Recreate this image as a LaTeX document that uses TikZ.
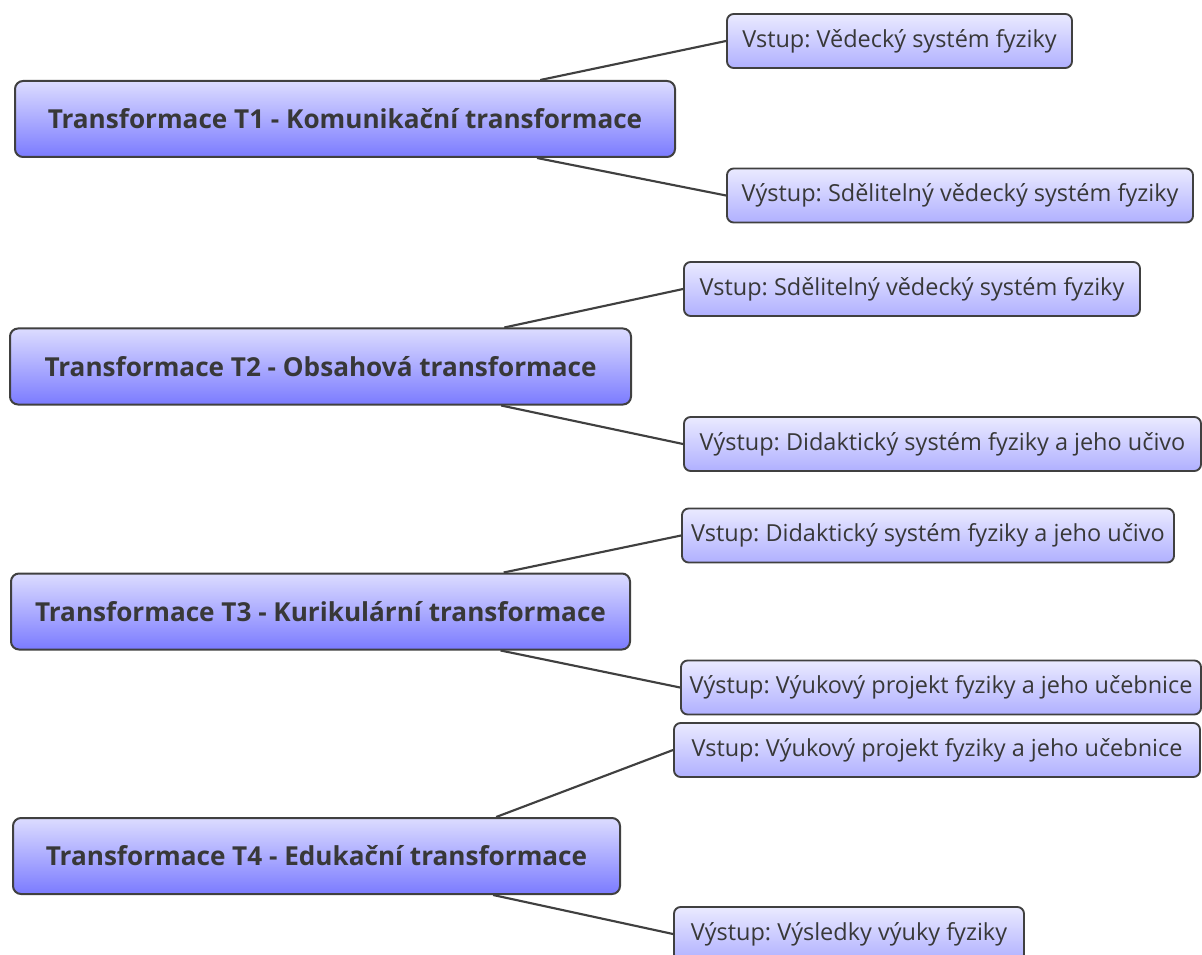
\documentclass[tikz,border=0pt]{standalone}
\usepackage{fontspec}
\setmainfont{Open Sans}
\frenchspacing
\usetikzlibrary{calc}
\definecolor{mtop}{HTML}{DCDCFF}
\definecolor{mbot}{HTML}{7B7BFF}
\definecolor{stop}{HTML}{EAEAFF}
\definecolor{sbot}{HTML}{B0B0FF}
\definecolor{edge}{HTML}{404040}
\definecolor{txt}{HTML}{383838}
\tikzset{
  mainbox/.style={draw=edge, line width=1.5pt, rounded corners=6pt, top color=mtop, bottom color=mbot,
    minimum height=57pt, inner sep=0pt, text=txt, font=\fontsize{19.6}{22}\selectfont\bfseries},
  subbox/.style={draw=edge, line width=1.4pt, rounded corners=5pt, top color=stop, bottom color=sbot,
    minimum height=40.5pt, inner sep=0pt, text=txt, font=\fontsize{17.6}{20}\selectfont},
  link/.style={draw=edge, line width=1.6pt}
}
\begin{document}
\begin{tikzpicture}[x=0.75pt,y=-0.75pt]
\useasboundingbox[fill=white] (0,0) rectangle (1202,955);
% main nodes
\node[mainbox, minimum width=495pt] (m1) at (345,119) {Transformace T1 - Komunikační transformace};
\node[mainbox, minimum width=465.75pt] (m2) at (320.5,366.5) {Transformace T2 - Obsahová transformace};
\node[mainbox, minimum width=464.25pt] (m3) at (320.5,611.5) {Transformace T3 - Kurikulární transformace};
\node[mainbox, minimum width=455.25pt] (m4) at (316.5,856) {Transformace T4 - Edukační transformace};
% sub nodes
\node[subbox, minimum width=258.75pt] (i1) at (899.5,41) {Vstup: Vědecký systém fyziky};
\node[subbox, minimum width=349.5pt] (o1) at (960,195.5) {Výstup: Sdělitelný vědecký systém fyziky};
\node[subbox, minimum width=342pt] (i2) at (912,289) {Vstup: Sdělitelný vědecký systém fyziky};
\node[subbox, minimum width=387.75pt] (o2) at (942.5,444) {Výstup: Didaktický systém fyziky a jeho učivo};
\node[subbox, minimum width=369pt] (i3) at (928,535.5) {Vstup: Didaktický systém fyziky a jeho učivo};
\node[subbox, minimum width=390pt] (o3) at (941,687.5) {Výstup: Výukový projekt fyziky a jeho učebnice};
\node[subbox, minimum width=394.5pt] (i4) at (937,750) {Vstup: Výukový projekt fyziky a jeho učebnice};
\node[subbox, minimum width=262.5pt] (o4) at (849,934) {Výstup: Výsledky výuky fyziky};
% connectors
\foreach \k in {1,2,3,4}{
  \draw[link] ($(m\k.north west)!0.795!(m\k.north east)$) -- (i\k.west);
  \draw[link] ($(m\k.south west)!0.79!(m\k.south east)$) -- (o\k.west);
}
\end{tikzpicture}
\end{document}
